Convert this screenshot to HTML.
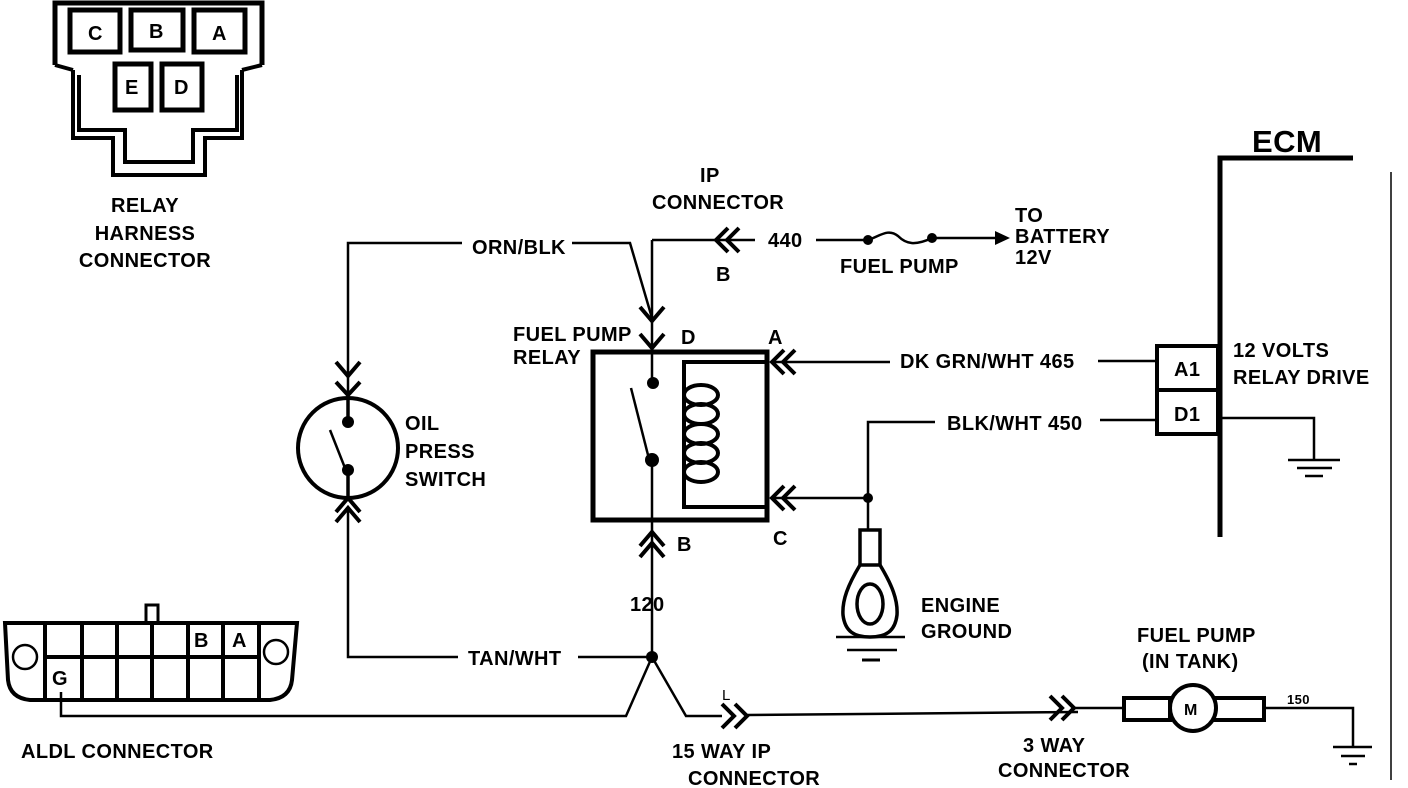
<!DOCTYPE html>
<html><head><meta charset="utf-8"><style>
html,body{margin:0;padding:0;background:#fff;}
svg{display:block}
text{font-family:"Liberation Sans",sans-serif;font-weight:bold;font-size:20px;letter-spacing:0.4px;fill:#000}
</style></head><body>
<svg width="1408" height="788" viewBox="0 0 1408 788" xmlns="http://www.w3.org/2000/svg">
<g fill="none" stroke="#000" stroke-width="2.5" stroke-linejoin="miter">
<polyline stroke-width="5" points="55,65 55,3 262,3 262,65"/>
<polyline stroke-width="4" points="73,70 73,138 113,138 113,175 205,175 205,138 242,138 242,70"/>
<polyline stroke-width="4" points="79,75 79,130 125,130 125,162 193,162 193,130 237,130 237,75"/>
<polyline stroke-width="4" points="55,65 73,70"/><polyline stroke-width="4" points="262,65 242,70"/>
<rect x="70" y="10" width="50" height="42" stroke-width="5"/>
<rect x="131" y="10" width="52" height="40" stroke-width="5"/>
<rect x="194" y="10" width="51" height="42" stroke-width="5"/>
<rect x="115" y="64" width="36" height="46" stroke-width="5"/>
<rect x="162" y="64" width="40" height="46" stroke-width="5"/>

<polyline stroke-width="5" points="1353,158 1220,158 1220,537"/>
<line x1="1391" y1="172" x2="1391" y2="780" stroke-width="1.5"/>
<rect x="1157" y="346" width="61" height="88" stroke-width="4"/>
<line x1="1157" y1="390" x2="1218" y2="390" stroke-width="4"/>
<line x1="1098" y1="361" x2="1157" y2="361"/>
<line x1="1100" y1="420" x2="1157" y2="420"/>
<polyline points="1220,418 1314,418 1314,460"/>
<line x1="1288" y1="460" x2="1340" y2="460"/><line x1="1297" y1="468" x2="1332" y2="468"/><line x1="1305" y1="476" x2="1323" y2="476"/>

<rect x="593" y="352" width="174" height="168" stroke-width="5"/>
<polyline stroke-width="4" points="767,362 684,362 684,507 767,507"/>
<ellipse cx="701" cy="395" rx="17" ry="10" stroke-width="4"/>
<ellipse cx="701" cy="414" rx="17" ry="10" stroke-width="4"/>
<ellipse cx="701" cy="434" rx="17" ry="10" stroke-width="4"/>
<ellipse cx="701" cy="453" rx="17" ry="10" stroke-width="4"/>
<ellipse cx="701" cy="472" rx="17" ry="10" stroke-width="4"/>
<line x1="652" y1="240" x2="652" y2="383"/>
<line x1="631" y1="388" x2="648" y2="455"/>
<line x1="652" y1="460" x2="652" y2="657"/>
<polyline stroke-width="4" points="640,307 652,321 664,307"/>
<polyline stroke-width="4" points="640,334 652,348 664,334"/>
<polyline stroke-width="4" points="640,546 652,532 664,546"/>
<polyline stroke-width="4" points="640,557 652,543 664,557"/>
<polyline stroke-width="4" points="784,350 772,362 784,374"/>
<polyline stroke-width="4" points="795,350 783,362 795,374"/>
<polyline stroke-width="4" points="784,486 772,498 784,510"/>
<polyline stroke-width="4" points="795,486 783,498 795,510"/>
<line x1="772" y1="362" x2="890" y2="362"/>
<line x1="772" y1="498" x2="868" y2="498"/>
<polyline points="935,422 868,422 868,530"/>
<rect x="860" y="530" width="20" height="35" stroke-width="3.5"/>
<path d="M860,565 C848,585 842,600 843,615 C845,632 855,637 870,637 C885,637 895,632 897,615 C898,600 892,585 880,565" stroke-width="3.5"/>
<ellipse cx="870" cy="604" rx="13" ry="20" stroke-width="3.5"/>
<line x1="836" y1="637" x2="905" y2="637"/><line x1="847" y1="650" x2="897" y2="650"/><line x1="862" y1="660" x2="880" y2="660" stroke-width="3"/>

<line x1="652" y1="240" x2="755" y2="240"/>
<polyline stroke-width="4" points="728,228 716,240 728,252"/>
<polyline stroke-width="4" points="739,228 727,240 739,252"/>
<line x1="816" y1="240" x2="866" y2="240"/>
<path d="M868,240 C880,236 888,228 898,236 C906,244 915,246 932,238"/>
<line x1="932" y1="238" x2="995" y2="238"/>
<polyline points="462,243 348,243 348,395"/>
<polyline points="572,243 630,243 652,318"/>
<polyline stroke-width="4" points="336,362 348,376 360,362"/>
<polyline stroke-width="4" points="336,382 348,395 360,382"/>
<circle cx="348" cy="448" r="50" stroke-width="4"/>
<line x1="348" y1="395" x2="348" y2="422" stroke-width="3.5"/>
<line x1="330" y1="430" x2="345" y2="468"/>
<line x1="348" y1="470" x2="348" y2="498" stroke-width="3.5"/>
<polyline stroke-width="4" points="336,512 348,498 360,512"/>
<polyline stroke-width="4" points="336,522 348,508 360,522"/>
<polyline points="348,508 348,657 458,657"/>
<line x1="578" y1="657" x2="652" y2="657"/>
<polyline points="652,657 626,716 61,716 61,692"/>
<polyline points="652,657 686,716 722,716"/>
<polyline stroke-width="4" points="722,704 734,716 722,728"/>
<polyline stroke-width="4" points="735,704 747,716 735,728"/>
<polyline points="747,715 1078,712"/>
<polyline stroke-width="4" points="1050,696 1062,708 1050,720"/>
<polyline stroke-width="4" points="1062,696 1074,708 1062,720"/>
<line x1="1074" y1="708" x2="1122" y2="708"/>
<rect x="1124" y="698" width="46" height="22" stroke-width="4"/>
<rect x="1214" y="698" width="50" height="22" stroke-width="4"/>
<circle cx="1193" cy="708" r="23" stroke-width="4" fill="#fff"/>
<polyline points="1264,708 1353,708 1353,746"/>
<line x1="1333" y1="747" x2="1372" y2="747"/><line x1="1341" y1="756" x2="1365" y2="756"/><line x1="1349" y1="764" x2="1357" y2="764"/>

<path d="M5,623 L297,623 L292,680 Q290,698 270,700 L30,700 Q10,698 8,680 Z" stroke-width="4"/>
<rect x="146" y="605" width="12" height="18" stroke-width="3"/>
<line x1="45" y1="657" x2="260" y2="657" stroke-width="4"/>
<line x1="45" y1="623" x2="45" y2="698" stroke-width="4"/>
<line x1="82" y1="623" x2="82" y2="698" stroke-width="4"/>
<line x1="117" y1="623" x2="117" y2="698" stroke-width="4"/>
<line x1="152" y1="623" x2="152" y2="698" stroke-width="4"/>
<line x1="188" y1="623" x2="188" y2="698" stroke-width="4"/>
<line x1="223" y1="623" x2="223" y2="698" stroke-width="4"/>
<line x1="259" y1="623" x2="259" y2="698" stroke-width="4"/>
<circle cx="25" cy="657" r="12"/><circle cx="276" cy="652" r="12"/>
</g>
<g fill="#000">
<circle cx="653" cy="383" r="6"/><circle cx="652" cy="460" r="7"/>
<circle cx="348" cy="422" r="6"/><circle cx="348" cy="470" r="6"/>
<circle cx="868" cy="498" r="5"/><circle cx="652" cy="657" r="6"/>
<circle cx="868" cy="240" r="5"/><circle cx="932" cy="238" r="5"/>
<polygon points="995,231 1010,238 995,245"/>
</g>
<text x="88" y="40">C</text><text x="149" y="38">B</text><text x="212" y="40">A</text>
<text x="125" y="94">E</text><text x="174" y="94">D</text>
<text x="145" y="212" text-anchor="middle">RELAY</text>
<text x="145" y="240" text-anchor="middle">HARNESS</text>
<text x="145" y="267" text-anchor="middle">CONNECTOR</text>
<text x="1252" y="152" style="font-size:31px">ECM</text>
<text x="1174" y="376">A1</text><text x="1174" y="421">D1</text>
<text x="1233" y="357">12 VOLTS</text><text x="1233" y="384">RELAY DRIVE</text>
<text x="900" y="368">DK GRN/WHT 465</text>
<text x="947" y="430">BLK/WHT 450</text>
<text x="921" y="612">ENGINE</text><text x="921" y="638">GROUND</text>
<text x="700" y="182">IP</text><text x="652" y="209">CONNECTOR</text>
<text x="768" y="247">440</text><text x="716" y="281">B</text>
<text x="840" y="273">FUEL PUMP</text>
<text x="1015" y="222">TO</text><text x="1015" y="243">BATTERY</text><text x="1015" y="264">12V</text>
<text x="472" y="254">ORN/BLK</text>
<text x="513" y="341">FUEL PUMP</text><text x="513" y="364">RELAY</text>
<text x="681" y="344">D</text><text x="768" y="344">A</text><text x="773" y="545">C</text><text x="677" y="551">B</text>
<text x="405" y="430">OIL</text><text x="405" y="458">PRESS</text><text x="405" y="486">SWITCH</text>
<text x="630" y="611">120</text>
<text x="468" y="665">TAN/WHT</text>
<text x="722" y="700" style="font-size:15px;font-weight:normal">L</text>
<text x="672" y="758">15 WAY IP</text><text x="688" y="785">CONNECTOR</text>
<text x="1023" y="752">3 WAY</text><text x="998" y="777">CONNECTOR</text>
<text x="1137" y="642">FUEL PUMP</text><text x="1142" y="668">(IN TANK)</text>
<text x="1184" y="715" style="font-size:16px">M</text>
<text x="1287" y="704" style="font-size:13px">150</text>
<text x="21" y="758">ALDL CONNECTOR</text>
<text x="194" y="647">B</text><text x="232" y="647">A</text><text x="52" y="685">G</text>
</svg>
</body></html>
